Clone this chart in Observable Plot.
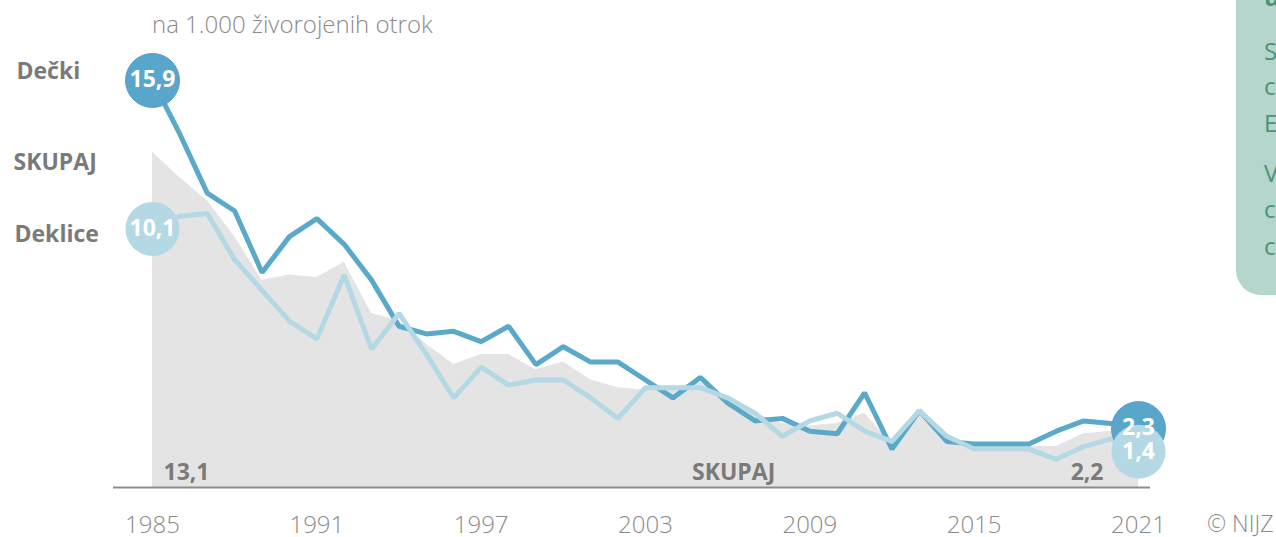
<!DOCTYPE html>
<html>
<head>
<meta charset="utf-8">
<script src="https://cdn.jsdelivr.net/npm/d3@7"></script>
<script src="https://cdn.jsdelivr.net/npm/@observablehq/plot@0.6"></script>
<style>
  body { margin: 0; background: #fff; }
  #wrap { position: relative; width: 1276px; height: 537px; overflow: hidden; background: #fff; font-family: 'Open Sans', sans-serif; }
  #chart { position: absolute; left: 0; top: 0; }
  #overlay { position: absolute; left: 0; top: 0; pointer-events: none; }
</style>
</head>
<body>
<div id="wrap">
  <div id="chart"></div>
  <svg id="overlay" width="1276" height="537">
    <rect x="1236" y="-40" width="90" height="335" rx="25" ry="25" fill="#b4d6cc"></rect>
    <g fill="#4b9378" font-family="'Open Sans', sans-serif" font-size="24">
      <text x="1264" y="6" font-weight="700">u</text>
      <text x="1264" y="60">S</text>
      <text x="1264" y="95">c</text>
      <text x="1264" y="132">E</text>
      <text x="1264" y="182">V</text>
      <text x="1264" y="218">c</text>
      <text x="1264" y="255">c</text>
    </g>
    <text x="152" y="33" font-family="'Open Sans', sans-serif" font-size="24" font-weight="300" fill="#8a8a8a">na 1.000 živorojenih otrok</text>
    <text x="1207" y="532" font-family="'Open Sans', sans-serif" font-size="23" font-weight="300" fill="#8a8a8a">© NIJZ</text>
  </svg>
</div>
<script>
// ---- data ----
const years = [1985,1986,1987,1988,1989,1990,1991,1992,1993,1994,1995,1996,1997,1998,1999,2000,2001,2002,2003,2004,2005,2006,2007,2008,2009,2010,2011,2012,2013,2014,2015,2016,2017,2018,2019,2020,2021];
const boys  = [15.9,13.8,11.5,10.8,8.4,9.8,10.5,9.5,8.1,6.3,6.0,6.1,5.7,6.3,4.8,5.5,4.9,4.9,4.2,3.5,4.3,3.3,2.6,2.7,2.2,2.1,3.7,1.5,3.0,1.8,1.7,1.7,1.7,2.2,2.6,2.5,2.3];
const girls = [10.1,10.6,10.7,8.9,7.7,6.5,5.8,8.3,5.4,6.8,5.2,3.5,4.7,4.0,4.2,4.2,3.5,2.7,3.9,3.9,3.9,3.5,2.9,2.0,2.6,2.9,2.2,1.8,3.0,2.0,1.5,1.5,1.5,1.1,1.6,1.9,1.4];
const total = [13.1,12.1,11.2,9.8,8.1,8.3,8.2,8.8,6.8,6.5,5.6,4.8,5.2,5.2,4.6,4.9,4.2,3.9,3.8,3.9,4.1,3.5,2.9,2.5,2.4,2.5,2.9,1.7,3.0,1.9,1.6,1.6,1.6,1.6,2.1,2.2,2.2];
const tickYears = [1985,1991,1997,2003,2009,2015,2021];
const seriesNames = ["Dečki", "SKUPAJ", "Deklice"];

const data = years.map((year, i) => ({year, boys: boys[i], girls: girls[i], total: total[i]}));
const first = data[0];
const last = data[data.length - 1];
const fmt = v => v.toFixed(1).replace(".", ",");

const DARK = "#5aa9c9";
const LIGHT = "#b4d9e4";
const LABEL = "#7a7a7a";
const F = "'Open Sans', sans-serif";

const chart = Plot.plot({
  width: 1276,
  height: 537,
  marginLeft: 113,
  marginRight: 126,
  marginTop: 0,
  marginBottom: 50,
  style: {fontFamily: F, background: "transparent", overflow: "visible"},
  x: {domain: [1985, 2021], range: [152, 1138], label: null},
  y: {domain: [0, 16], range: [487, 77.4], axis: null},
  marks: [
    Plot.areaY(data, {x: "year", y: "total", fill: "#e4e4e4"}),
    Plot.ruleY([0], {stroke: "#8c8c8c", strokeWidth: 2}),
    Plot.line(data, {x: "year", y: "boys", stroke: DARK, strokeWidth: 5, strokeLinejoin: "miter"}),
    Plot.line(data, {x: "year", y: "girls", stroke: LIGHT, strokeWidth: 5, strokeLinejoin: "miter"}),
    Plot.axisX({ticks: tickYears, tickFormat: d => String(d), tickSize: 0, tickPadding: 28,
      fontSize: 24, fontWeight: 300, color: "#8a8a8a", label: null}),
    // end-point circles
    Plot.dot([first, last], {x: "year", y: "boys", r: 27, fill: "#58a6c9", stroke: "#5b9bd3", strokeWidth: 1}),
    Plot.dot([first, last], {x: "year", y: "girls", r: 27, fill: "#b4d9e5"}),
    Plot.text([first, last], {x: "year", y: "boys", text: d => fmt(d.boys), fill: "white",
      fontWeight: 700, fontSize: 23, fontFamily: F, dy: -1}),
    Plot.text([first, last], {x: "year", y: "girls", text: d => fmt(d.girls), fill: "white",
      fontWeight: 700, fontSize: 23, fontFamily: F}),
    // series labels on the left
    Plot.text([first], {x: "year", y: "boys", text: () => seriesNames[0], dx: -136, dy: -1,
      textAnchor: "start", lineAnchor: "bottom", fill: LABEL, fontWeight: 700, fontSize: 23, fontFamily: F}),
    Plot.text([first], {x: "year", y: "total", text: () => seriesNames[1], dx: -139, dy: 18,
      textAnchor: "start", lineAnchor: "bottom", fill: LABEL, fontWeight: 700, fontSize: 23, fontFamily: F}),
    Plot.text([first], {x: "year", y: "girls", text: () => seriesNames[2], dx: -138, dy: 13,
      textAnchor: "start", lineAnchor: "bottom", fill: LABEL, fontWeight: 700, fontSize: 23, fontFamily: F}),
    // total labels near the baseline
    Plot.text([first], {x: "year", y: () => 0, text: d => fmt(d.total), dx: 11, dy: -8,
      textAnchor: "start", lineAnchor: "bottom", fill: LABEL, fontWeight: 700, fontSize: 23, fontFamily: F}),
    Plot.text([last], {x: "year", y: () => 0, text: d => fmt(d.total), dx: -35, dy: -8,
      textAnchor: "end", lineAnchor: "bottom", fill: LABEL, fontWeight: 700, fontSize: 23, fontFamily: F}),
    Plot.text([{year: 2006}], {x: "year", y: () => 0, text: () => seriesNames[1], dx: 6, dy: -8,
      textAnchor: "middle", lineAnchor: "bottom", fill: LABEL, fontWeight: 700, fontSize: 23, fontFamily: F})
  ]
});
document.getElementById("chart").appendChild(chart);
</script>
</body>
</html>
